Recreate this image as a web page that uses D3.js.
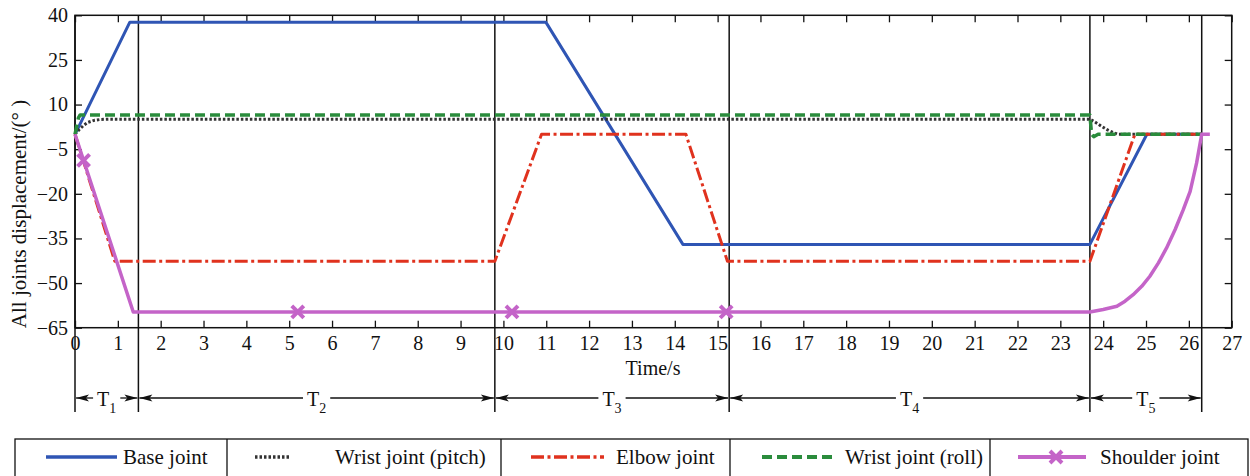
<!DOCTYPE html>
<html>
<head>
<meta charset="utf-8">
<script src="https://cdn.jsdelivr.net/npm/d3@7"></script>
<style>
  body { margin: 0; background: #fff; }
  text { font-family: "Liberation Serif", "Times New Roman", serif; fill: #111; }
</style>
</head>
<body>
<svg id="chart" width="1250" height="476"></svg>
<script>
// ---- data ----
const xTicks = d3.range(0, 28);
const yTicks = [40, 25, 10, -5, -20, -35, -50, -65];
const phaseBounds = [0, 1.48, 9.80, 15.27, 23.69, 26.30];
const phaseNames = ['1', '2', '3', '4', '5'];

const baseT = [0, 1.28, 10.99, 14.19, 23.69, 25.02, 26.30];
const baseV = [0, 37.7, 37.7, -37.0, -37.0, 0, 0];

const pitchT = [0, 0.1, 0.2, 0.3, 0.45, 0.6, 0.8, 23.69, 23.8, 23.95, 24.1, 24.25, 24.35, 26.30];
const pitchV = [0, 1.6, 3.0, 4.0, 4.7, 5.0, 5.1, 5.1, 4.2, 2.8, 1.5, 0.5, 0, 0];

const elbowT = [0, 0.93, 9.80, 10.89, 14.26, 15.23, 23.69, 24.74, 26.30];
const elbowV = [0, -42.7, -42.7, 0, 0, -42.7, -42.7, 0, 0];

const rollT = [0, 0.08, 0.12, 23.69, 23.73, 23.78, 23.88, 26.30];
const rollV = [0, 5.5, 6.5, 6.5, 0, -0.8, 0, 0];

const shoulderT = [0, 1.36, 23.69, 24.00, 24.32, 24.51, 24.70, 24.90, 25.09, 25.29, 25.48,
                   25.68, 25.87, 26.03, 26.18, 26.30, 26.49];
const shoulderV = [0, -59.7, -59.7, -58.9, -57.8, -56.1, -53.9, -51.1, -47.7, -43.2, -38.2,
                   -32.0, -25.3, -19.2, -9.7, 0, 0];
const shoulderMarkT = [0.2, 5.2, 10.2, 15.2];

const series = [
  {name: 'Base joint',          t: baseT,     v: baseV,     color: '#2f55b4', width: 3,   dash: null},
  {name: 'Wrist joint (pitch)', t: pitchT,    v: pitchV,    color: '#333333', width: 3,   dash: '2.5,2'},
  {name: 'Elbow joint',         t: elbowT,    v: elbowV,    color: '#e0321e', width: 3,   dash: '13,3.5,3,3.5'},
  {name: 'Wrist joint (roll)',  t: rollT,     v: rollV,     color: '#2a8c3c', width: 3.5, dash: '10,5'},
  {name: 'Shoulder joint',      t: shoulderT, v: shoulderV, color: '#c464c8', width: 3.5, dash: null, marks: shoulderMarkT}
];

// ---- layout ----
const plot = {l: 75, r: 1231.7, t: 15.3, b: 327.7};
const x = d3.scaleLinear().domain([0, 27]).range([plot.l, plot.r]);
const y = d3.scaleLinear().domain([-65, 40]).range([plot.b, plot.t]);
const svg = d3.select('#chart');

// axes, ticks inward on all four sides
const fmt = d3.format('d');
svg.append('g').attr('transform', `translate(0,${plot.b})`)
  .call(d3.axisBottom(x).tickValues(xTicks).tickFormat(fmt).tickSize(-7).tickSizeOuter(0).tickPadding(8))
  .call(g => g.select('.domain').remove())
  .call(g => g.selectAll('text').style('font-size', '20px').attr('font-family', null));
svg.append('g').attr('transform', `translate(0,${plot.t})`)
  .call(d3.axisTop(x).tickValues(xTicks).tickFormat('').tickSize(-7).tickSizeOuter(0))
  .call(g => g.select('.domain').remove());
svg.append('g').attr('transform', `translate(${plot.l},0)`)
  .call(d3.axisLeft(y).tickValues(yTicks).tickFormat(fmt).tickSize(-7).tickSizeOuter(0).tickPadding(7))
  .call(g => g.select('.domain').remove())
  .call(g => g.selectAll('text').style('font-size', '20px').attr('font-family', null));
svg.append('g').attr('transform', `translate(${plot.r},0)`)
  .call(d3.axisRight(y).tickValues(yTicks).tickFormat('').tickSize(-7).tickSizeOuter(0))
  .call(g => g.select('.domain').remove());
svg.selectAll('.tick line').attr('stroke', '#111').attr('stroke-width', 1.3);

svg.append('rect')
  .attr('x', plot.l).attr('y', plot.t)
  .attr('width', plot.r - plot.l).attr('height', plot.b - plot.t)
  .attr('fill', 'none').attr('stroke', '#111').attr('stroke-width', 1.5);

// phase divider lines
const divBottom = 412;
svg.append('g').selectAll('line').data(phaseBounds).enter().append('line')
  .attr('x1', d => x(d)).attr('x2', d => x(d))
  .attr('y1', plot.t).attr('y2', divBottom)
  .attr('stroke', '#111').attr('stroke-width', 1.5);

// joint curves
const line = d3.line().x(d => x(d[0])).y(d => y(d[1]));
const gLines = svg.append('g');
series.forEach(s => {
  const pts = s.t.map((t, i) => [t, s.v[i]]);
  gLines.append('path')
    .datum(pts)
    .attr('d', line)
    .attr('fill', 'none')
    .attr('stroke', s.color)
    .attr('stroke-width', s.width)
    .attr('stroke-dasharray', s.dash)
    .attr('stroke-linejoin', 'round');
  if (s.marks) {
    const interp = t => {
      const i = d3.bisectRight(s.t, t) - 1;
      const f = (t - s.t[i]) / (s.t[i + 1] - s.t[i]);
      return s.v[i] + f * (s.v[i + 1] - s.v[i]);
    };
    gLines.selectAll(null).data(s.marks).enter().append('path')
      .attr('transform', d => `translate(${x(d)},${y(interp(d))})`)
      .attr('d', 'M-6,-6L6,6M6,-6L-6,6')
      .attr('stroke', s.color).attr('stroke-width', 4).attr('fill', 'none');
  }
});

// axis titles
svg.append('text')
  .attr('x', 653).attr('y', 375)
  .attr('text-anchor', 'middle').style('font-size', '20px')
  .text('Time/s');
svg.append('text')
  .attr('transform', 'translate(26,214) rotate(-90)')
  .attr('text-anchor', 'middle').style('font-size', '21px')
  .text('All joints displacement/(°  )');

// phase arrows T1..T5
const arrowY = 398;
const gPh = svg.append('g');
function arrowHead(xt, dir) {
  // dir = -1 points left, 1 points right
  gPh.append('path')
    .attr('d', `M${xt},${arrowY}L${xt - dir * 13},${arrowY - 3.5}L${xt - dir * 10},${arrowY}L${xt - dir * 13},${arrowY + 3.5}Z`)
    .attr('fill', '#111');
}
phaseNames.forEach((nm, i) => {
  const a = x(phaseBounds[i]) + 1, b = x(phaseBounds[i + 1]) - 1;
  const c = (a + b) / 2;
  const lbl = gPh.append('text')
    .attr('x', c).attr('y', arrowY + 8)
    .attr('text-anchor', 'middle').style('font-size', '20px');
  lbl.append('tspan').text('T');
  lbl.append('tspan').attr('dy', 7).style('font-size', '14px').text(nm);
  const w = lbl.node().getComputedTextLength();
  const gap = 4;
  gPh.append('line').attr('x1', a).attr('x2', c - w / 2 - gap)
    .attr('y1', arrowY).attr('y2', arrowY).attr('stroke', '#111').attr('stroke-width', 1.3);
  gPh.append('line').attr('x1', c + w / 2 + gap).attr('x2', b)
    .attr('y1', arrowY).attr('y2', arrowY).attr('stroke', '#111').attr('stroke-width', 1.3);
  arrowHead(a, -1);
  arrowHead(b, 1);
});

// legend table
const legBox = {x0: 15, x1: 1248, y0: 439};
const legCells = [
  {l0: 46,   l1: 117,  tx: 123},
  {l0: 255,  l1: 291,  tx: 335},
  {l0: 531,  l1: 604,  tx: 616},
  {l0: 762,  l1: 834,  tx: 845},
  {l0: 1018, l1: 1086, tx: 1100}
];
const legDividers = [227, 501, 730, 990];
const legY = 457;
const gLeg = svg.append('g');
gLeg.append('rect')
  .attr('x', legBox.x0).attr('y', legBox.y0)
  .attr('width', legBox.x1 - legBox.x0).attr('height', 60)
  .attr('fill', 'none').attr('stroke', '#111').attr('stroke-width', 1.3);
gLeg.selectAll('line.div').data(legDividers).enter().append('line')
  .attr('class', 'div')
  .attr('x1', d => d).attr('x2', d => d).attr('y1', legBox.y0).attr('y2', 476)
  .attr('stroke', '#111').attr('stroke-width', 1.3);
series.forEach((s, i) => {
  const c = legCells[i];
  gLeg.append('line')
    .attr('x1', c.l0).attr('x2', c.l1).attr('y1', legY).attr('y2', legY)
    .attr('stroke', s.color).attr('stroke-width', s.width + 0.5)
    .attr('stroke-dasharray', s.dash);
  if (s.marks) {
    gLeg.append('path')
      .attr('transform', `translate(${(c.l0 + c.l1) / 2 + 4},${legY})`)
      .attr('d', 'M-6,-6L6,6M6,-6L-6,6')
      .attr('stroke', s.color).attr('stroke-width', 4).attr('fill', 'none');
  }
  gLeg.append('text')
    .attr('x', c.tx).attr('y', legY + 7)
    .style('font-size', '21px')
    .text(s.name);
});
</script>
</body>
</html>
